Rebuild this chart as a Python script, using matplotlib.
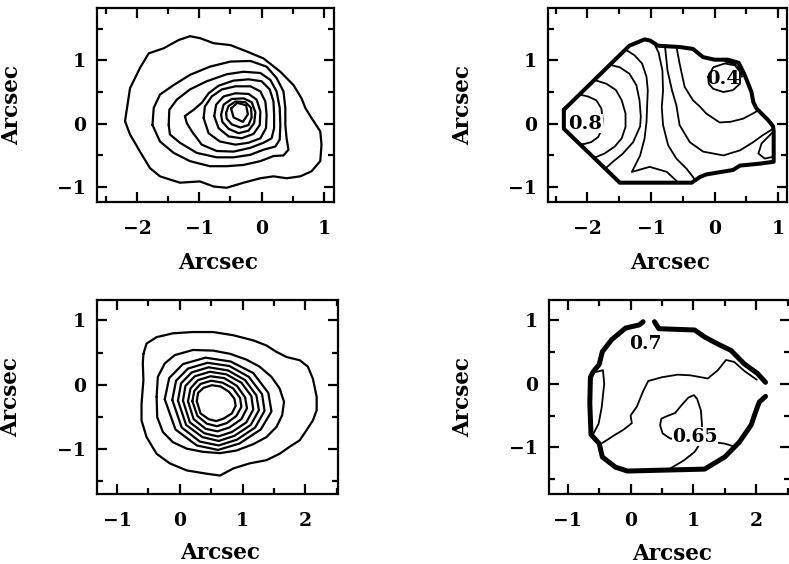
import numpy as np
import matplotlib
matplotlib.use("Agg")
import matplotlib.pyplot as plt
from matplotlib.ticker import MultipleLocator

plt.rcParams['font.family'] = 'DejaVu Serif'
plt.rcParams['font.weight'] = 'bold'

# ---- top left: intensity contours, outer to inner (arcsec)
tl_c1 = [(-2.19, 0.04), (-2.11, 0.56), (-1.95, 0.88), (-1.81, 1.11), (-1.57, 1.19), (-1.33, 1.32),
         (-1.15, 1.38), (-0.99, 1.35), (-0.77, 1.27), (-0.50, 1.24), (-0.24, 1.14), (0.03, 1.03),
         (0.30, 0.82), (0.51, 0.61), (0.64, 0.40), (0.70, 0.25), (0.80, 0.09), (0.94, -0.12),
         (0.96, -0.33), (0.94, -0.59), (0.80, -0.75), (0.62, -0.83), (0.40, -0.86), (0.19, -0.83),
         (-0.02, -0.86), (-0.29, -0.93), (-0.56, -1.01), (-0.77, -0.99), (-0.99, -0.91), (-1.31, -0.93),
         (-1.63, -0.83), (-1.79, -0.70), (-1.95, -0.44), (-2.11, -0.17)]
tl_c2 = [(-1.75, -0.02), (-1.73, 0.25), (-1.63, 0.46), (-1.41, 0.61), (-1.15, 0.77), (-0.83, 0.90),
         (-0.50, 0.98), (-0.18, 0.99), (0.08, 0.90), (0.24, 0.72), (0.35, 0.51), (0.38, 0.25),
         (0.38, -0.02), (0.40, -0.23), (0.43, -0.41), (0.35, -0.50), (0.19, -0.51), (-0.02, -0.59),
         (-0.29, -0.65), (-0.56, -0.67), (-0.83, -0.67), (-1.15, -0.59), (-1.41, -0.46), (-1.63, -0.28)]
tl_c3 = [(-1.49, -0.02), (-1.48, 0.22), (-1.36, 0.38), (-1.15, 0.54), (-0.88, 0.67), (-0.56, 0.78),
         (-0.29, 0.82), (-0.02, 0.80), (0.14, 0.69), (0.24, 0.51), (0.29, 0.25), (0.30, -0.02),
         (0.29, -0.25), (0.22, -0.36), (0.03, -0.41), (-0.18, -0.49), (-0.45, -0.53), (-0.72, -0.53),
         (-1.04, -0.46), (-1.31, -0.30), (-1.47, -0.17)]
tl_c4 = [(-1.23, 0.12), (-1.09, 0.22), (-0.96, 0.33), (-0.85, 0.48), (-0.69, 0.60), (-0.45, 0.68),
         (-0.21, 0.70), (0.00, 0.67), (0.13, 0.54), (0.19, 0.35), (0.20, 0.14), (0.20, -0.07),
         (0.16, -0.23), (0.03, -0.30), (-0.18, -0.38), (-0.45, -0.44), (-0.72, -0.43), (-0.96, -0.33),
         (-1.12, -0.12), (-1.20, 0.01)]
tl_c5 = [(-0.93, 0.09), (-0.91, 0.27), (-0.80, 0.43), (-0.64, 0.54), (-0.42, 0.59), (-0.18, 0.59),
         (-0.02, 0.51), (0.06, 0.35), (0.08, 0.14), (0.07, -0.07), (-0.02, -0.23), (-0.21, -0.30),
         (-0.42, -0.33), (-0.67, -0.28), (-0.85, -0.15)]
tl_c6 = [(-0.76, 0.12), (-0.73, 0.30), (-0.61, 0.43), (-0.42, 0.48), (-0.21, 0.47), (-0.08, 0.38),
         (-0.02, 0.19), (-0.03, -0.02), (-0.13, -0.16), (-0.32, -0.23), (-0.53, -0.20), (-0.69, -0.07)]
tl_c7 = [(-0.65, 0.14), (-0.61, 0.30), (-0.48, 0.39), (-0.29, 0.40), (-0.16, 0.34), (-0.10, 0.18),
         (-0.12, 0.01), (-0.21, -0.11), (-0.37, -0.15), (-0.53, -0.08), (-0.63, 0.03)]
tl_c8 = [(-0.57, 0.17), (-0.53, 0.28), (-0.42, 0.35), (-0.26, 0.34), (-0.17, 0.25), (-0.16, 0.10),
         (-0.21, -0.02), (-0.34, -0.06), (-0.48, -0.01), (-0.56, 0.08)]
tl_c9 = [(-0.49, 0.24), (-0.39, 0.33), (-0.25, 0.29), (-0.22, 0.15), (-0.30, 0.03), (-0.45, 0.10)]

# ---- bottom left: intensity contours, outer to inner
bl_c1 = [(-0.58, 0.48), (-0.53, 0.64), (-0.37, 0.74), (-0.11, 0.80), (0.21, 0.82), (0.53, 0.82),
         (0.85, 0.77), (1.17, 0.69), (1.38, 0.61), (1.54, 0.51), (1.70, 0.43), (1.91, 0.38),
         (2.04, 0.28), (2.12, 0.09), (2.18, -0.19), (2.18, -0.40), (2.12, -0.56), (2.02, -0.71),
         (1.91, -0.87), (1.75, -0.97), (1.59, -1.08), (1.38, -1.18), (1.11, -1.23), (0.85, -1.31),
         (0.64, -1.42), (0.42, -1.39), (0.11, -1.34), (-0.16, -1.23), (-0.37, -1.08), (-0.53, -0.82),
         (-0.61, -0.56), (-0.61, -0.30), (-0.58, 0.07), (-0.59, 0.33)]
bl_c2 = [(-0.37, -0.19), (-0.35, 0.12), (-0.24, 0.33), (-0.08, 0.46), (0.21, 0.54), (0.53, 0.53),
         (0.80, 0.48), (1.06, 0.39), (1.27, 0.28), (1.46, 0.12), (1.59, -0.06), (1.66, -0.27),
         (1.63, -0.48), (1.54, -0.66), (1.38, -0.82), (1.17, -0.93), (0.90, -1.03), (0.64, -1.07),
         (0.37, -1.05), (0.11, -1.00), (-0.11, -0.90), (-0.27, -0.74), (-0.36, -0.51)]
bl_c3 = [(-0.24, -0.23), (-0.17, 0.10), (0.05, 0.32), (0.41, 0.42), (0.81, 0.36), (1.17, 0.18),
         (1.41, -0.13), (1.46, -0.42), (1.29, -0.70), (0.95, -0.92), (0.61, -1.02), (0.27, -0.95),
         (-0.07, -0.70)]
bl_c4 = [(-0.12, -0.24), (-0.06, 0.06), (0.13, 0.25), (0.44, 0.34), (0.79, 0.29), (1.10, 0.12),
         (1.31, -0.15), (1.35, -0.41), (1.20, -0.67), (0.91, -0.86), (0.62, -0.95), (0.32, -0.89),
         (0.03, -0.67)]
bl_c5 = [(-0.03, -0.25), (0.02, 0.02), (0.19, 0.19), (0.46, 0.27), (0.77, 0.22), (1.04, 0.07),
         (1.22, -0.17), (1.26, -0.40), (1.13, -0.63), (0.87, -0.80), (0.62, -0.88), (0.36, -0.82),
         (0.10, -0.63)]
bl_c6 = [(0.05, -0.25), (0.09, -0.02), (0.24, 0.13), (0.48, 0.20), (0.74, 0.16), (0.98, 0.03),
         (1.14, -0.18), (1.17, -0.39), (1.06, -0.59), (0.83, -0.74), (0.61, -0.81), (0.39, -0.76),
         (0.16, -0.59)]
bl_c7 = [(0.13, -0.26), (0.17, -0.06), (0.29, 0.07), (0.49, 0.13), (0.71, 0.10), (0.91, -0.02),
         (1.04, -0.20), (1.07, -0.37), (0.98, -0.54), (0.79, -0.67), (0.60, -0.73), (0.41, -0.69),
         (0.22, -0.54)]
bl_c8 = [(0.20, -0.26), (0.23, -0.10), (0.33, 0.01), (0.50, 0.06), (0.68, 0.03), (0.85, -0.06),
         (0.96, -0.21), (0.98, -0.35), (0.90, -0.49), (0.75, -0.60), (0.59, -0.65), (0.43, -0.61),
         (0.28, -0.49)]
bl_c9 = [(0.27, -0.26), (0.29, -0.13), (0.38, -0.05), (0.51, -0.01), (0.65, -0.03), (0.78, -0.11),
         (0.87, -0.22), (0.89, -0.33), (0.83, -0.45), (0.70, -0.53), (0.58, -0.57), (0.46, -0.54),
         (0.33, -0.45)]

# ---- top right: colour map contours, thick line = edge of the data
tr_edge = [(-2.37, 0.22), (-1.34, 1.23), (-1.10, 1.33), (-1.01, 1.31), (-0.89, 1.23), (-0.55, 1.21),
           (-0.34, 1.18), (-0.18, 1.05), (0.00, 1.01), (0.21, 1.01), (0.38, 0.96), (0.46, 0.80),
           (0.53, 0.63), (0.58, 0.50), (0.61, 0.34), (0.66, 0.24), (0.74, 0.16), (0.84, 0.06),
           (0.92, -0.04), (0.93, -0.12), (0.93, -0.60), (0.71, -0.63), (0.40, -0.66), (0.29, -0.73),
           (-0.13, -0.80), (-0.23, -0.84), (-0.36, -0.93), (-1.49, -0.93), (-2.37, -0.08), (-2.37, 0.22)]
tr_c1 = [(-2.12, 0.46), (-1.99, 0.43), (-1.86, 0.37), (-1.78, 0.24), (-1.76, 0.08), (-1.77, -0.08),
         (-1.83, -0.21), (-1.94, -0.29), (-2.05, -0.32), (-2.12, -0.32)]
tr_c2 = [(-1.89, 0.69), (-1.70, 0.63), (-1.55, 0.53), (-1.46, 0.37), (-1.40, 0.16), (-1.40, -0.05),
         (-1.46, -0.23), (-1.57, -0.36), (-1.73, -0.47), (-1.90, -0.54)]
tr_c3 = [(-1.65, 0.93), (-1.49, 0.89), (-1.34, 0.79), (-1.23, 0.61), (-1.18, 0.37), (-1.16, 0.11),
         (-1.17, -0.04), (-1.28, -0.29), (-1.45, -0.48), (-1.60, -0.60), (-1.72, -0.71)]
tr_c4 = [(-1.40, 1.17), (-1.26, 1.08), (-1.14, 0.95), (-1.07, 0.74), (-1.05, 0.53), (-1.06, 0.29),
         (-1.07, 0.03), (-1.10, -0.23), (-1.17, -0.50), (-1.30, -0.76), (-1.02, -0.68), (-0.75, -0.76),
         (-0.57, -0.93)]
tr_c5 = [(-0.95, 1.27), (-0.88, 1.12), (-0.82, 0.84), (-0.81, 0.52), (-0.83, 0.26), (-0.81, -0.02),
         (-0.73, -0.34), (-0.60, -0.55), (-0.44, -0.71), (-0.30, -0.89)]
tr_c6 = [(-0.78, 1.23), (-0.74, 0.84), (-0.67, 0.53), (-0.60, 0.29), (-0.55, -0.02), (-0.39, -0.29),
         (-0.18, -0.44), (0.14, -0.50), (0.40, -0.42), (0.61, -0.29), (0.76, -0.18), (0.92, -0.08)]
tr_c7 = [(-0.60, 1.22), (-0.55, 0.95), (-0.47, 0.58), (-0.34, 0.37), (-0.23, 0.27), (-0.13, 0.16),
         (0.08, 0.02), (0.25, 0.03), (0.45, 0.08), (0.62, 0.17), (0.70, 0.22)]
tr_c04 = [(-0.10, 0.74), (-0.02, 0.89), (0.16, 0.95), (0.32, 0.92), (0.40, 0.82), (0.40, 0.63),
          (0.29, 0.53), (0.14, 0.50), (-0.02, 0.55), (-0.09, 0.63), (-0.10, 0.74)]
tr_arc = [(0.17, 0.98), (0.32, 0.94), (0.41, 0.85), (0.43, 0.74)]
tr_loop = [(0.92, -0.13), (0.74, -0.31), (0.69, -0.47), (0.79, -0.55), (0.93, -0.52)]
tr_labels = ['0.8', '0.4']
tr_label_xy = [(-2.03, 0.0), (0.14, 0.71)]

# ---- bottom right: colour map contours
br_edge_a = [(0.20, 0.97), (0.14, 0.92), (-0.08, 0.87), (-0.30, 0.69), (-0.45, 0.50), (-0.50, 0.30),
             (-0.60, 0.18), (-0.64, 0.10), (-0.65, -0.31), (-0.63, -0.80), (-0.50, -0.94), (-0.45, -1.15),
             (-0.24, -1.31), (-0.05, -1.37), (1.18, -1.34), (1.50, -1.15), (1.73, -0.92), (1.92, -0.65),
             (2.00, -0.42), (2.05, -0.29), (2.15, -0.20)]
br_edge_b = [(2.15, 0.02), (2.02, 0.16), (1.81, 0.31), (1.60, 0.52), (1.39, 0.62), (1.18, 0.73),
             (1.02, 0.84), (0.45, 0.86), (0.38, 0.97)]
br_left = [(-0.60, 0.17), (-0.44, 0.21), (-0.42, 0.00), (-0.46, -0.37), (-0.51, -0.63), (-0.60, -0.80)]
br_mid = [(-0.45, -0.93), (-0.26, -0.81), (-0.11, -0.72), (0.02, -0.62), (0.00, -0.50), (0.10, -0.36),
          (0.20, -0.12), (0.28, 0.04), (0.50, 0.10), (0.75, 0.14), (0.95, 0.13), (1.23, 0.08),
          (1.39, 0.21), (1.52, 0.37), (1.65, 0.34), (1.81, 0.20), (2.01, 0.06)]
br_c065 = [(0.63, -1.33), (0.84, -1.21), (1.02, -1.07), (1.12, -0.92), (1.14, -0.68), (1.12, -0.42),
           (1.06, -0.24), (1.01, -0.18), (0.92, -0.22), (0.81, -0.34), (0.71, -0.46), (0.58, -0.51),
           (0.49, -0.55), (0.47, -0.65), (0.51, -0.78), (0.63, -0.86), (0.81, -0.88), (1.08, -0.89),
           (1.34, -0.92), (1.50, -0.94), (1.63, -0.98)]
br_labels = ['0.7', '0.65']
br_label_xy = [(0.24, 0.62), (1.02, -0.83)]


def line(ax, pts, lw, closed=False, z=2):
    pts = np.array(pts)
    if closed:
        pts = np.vstack([pts, pts[:1]])
    ax.plot(pts[:, 0], pts[:, 1], color='black', lw=lw, zorder=z,
            solid_joinstyle='round', solid_capstyle='round')


def setup(ax, xlim, ylim, xlab_y=-0.26):
    ax.set_xlim(xlim)
    ax.set_ylim(ylim)
    for a in (ax.xaxis, ax.yaxis):
        a.set_major_locator(MultipleLocator(1))
        a.set_minor_locator(MultipleLocator(0.5))
    ax.tick_params(which='both', direction='in', top=True, right=True, width=1.6)
    ax.tick_params(which='major', length=7)
    ax.tick_params(which='minor', length=4)
    ax.tick_params(axis='x', pad=13, labelsize=13.5)
    ax.tick_params(axis='y', pad=8, labelsize=13.5)
    for s in ax.spines.values():
        s.set_linewidth(1.6)
    ax.set_xlabel('Arcsec', fontsize=15.5, fontweight='bold')
    ax.set_ylabel('Arcsec', fontsize=15.5, fontweight='bold')
    ax.xaxis.set_label_coords(0.51, xlab_y)
    # right edge of the rotated label
    ax.yaxis.set_label_coords(-0.31, 0.5)


fig = plt.figure(figsize=(7.89, 5.64), dpi=100)
ax_tl = fig.add_axes([0.1229, 0.6418, 0.3004, 0.344])
ax_tr = fig.add_axes([0.6945, 0.6418, 0.3030, 0.344])
ax_bl = fig.add_axes([0.1229, 0.1250, 0.3055, 0.3431])
ax_br = fig.add_axes([0.6958, 0.1241, 0.3055, 0.3440])

# top left
for c in [tl_c1, tl_c2, tl_c3, tl_c4, tl_c5, tl_c6, tl_c7, tl_c8, tl_c9]:
    line(ax_tl, c, 1.6, closed=True)
setup(ax_tl, (-2.64, 1.16), (-1.235, 1.825))

# bottom left
for c in [bl_c1, bl_c2, bl_c3, bl_c4, bl_c5, bl_c6, bl_c7, bl_c8, bl_c9]:
    line(ax_bl, c, 1.6, closed=True)
setup(ax_bl, (-1.32, 2.52), (-1.70, 1.32), xlab_y=-0.25)

# top right
for c in [tr_c1, tr_c2, tr_c3, tr_c4, tr_c5, tr_c6, tr_c7, tr_c04, tr_arc, tr_loop]:
    line(ax_tr, c, 1.3)
line(ax_tr, tr_edge, 2.9, z=4)
ax_tr.text(*tr_label_xy[0], tr_labels[0], ha='center', va='center', fontsize=14, fontweight='bold',
           zorder=3, bbox=dict(fc='white', ec='none', pad=0.3))
ax_tr.text(*tr_label_xy[1], tr_labels[1], ha='center', va='center', fontsize=14, fontweight='bold',
           zorder=3)
setup(ax_tr, (-2.62, 1.14), (-1.235, 1.825))

# bottom right
for c in [br_left, br_mid, br_c065]:
    line(ax_br, c, 1.3)
line(ax_br, br_edge_a, 3.6, z=4)
line(ax_br, br_edge_b, 3.6, z=4)
ax_br.text(*br_label_xy[0], br_labels[0], ha='center', va='center', fontsize=13.5, fontweight='bold',
           zorder=3)
ax_br.text(*br_label_xy[1], br_labels[1], ha='center', va='center', fontsize=13.5, fontweight='bold',
           zorder=3, bbox=dict(fc='white', ec='none', pad=0.2))
setup(ax_br, (-1.30, 2.54), (-1.73, 1.31), xlab_y=-0.25)

fig.savefig('out.png', dpi=100)
